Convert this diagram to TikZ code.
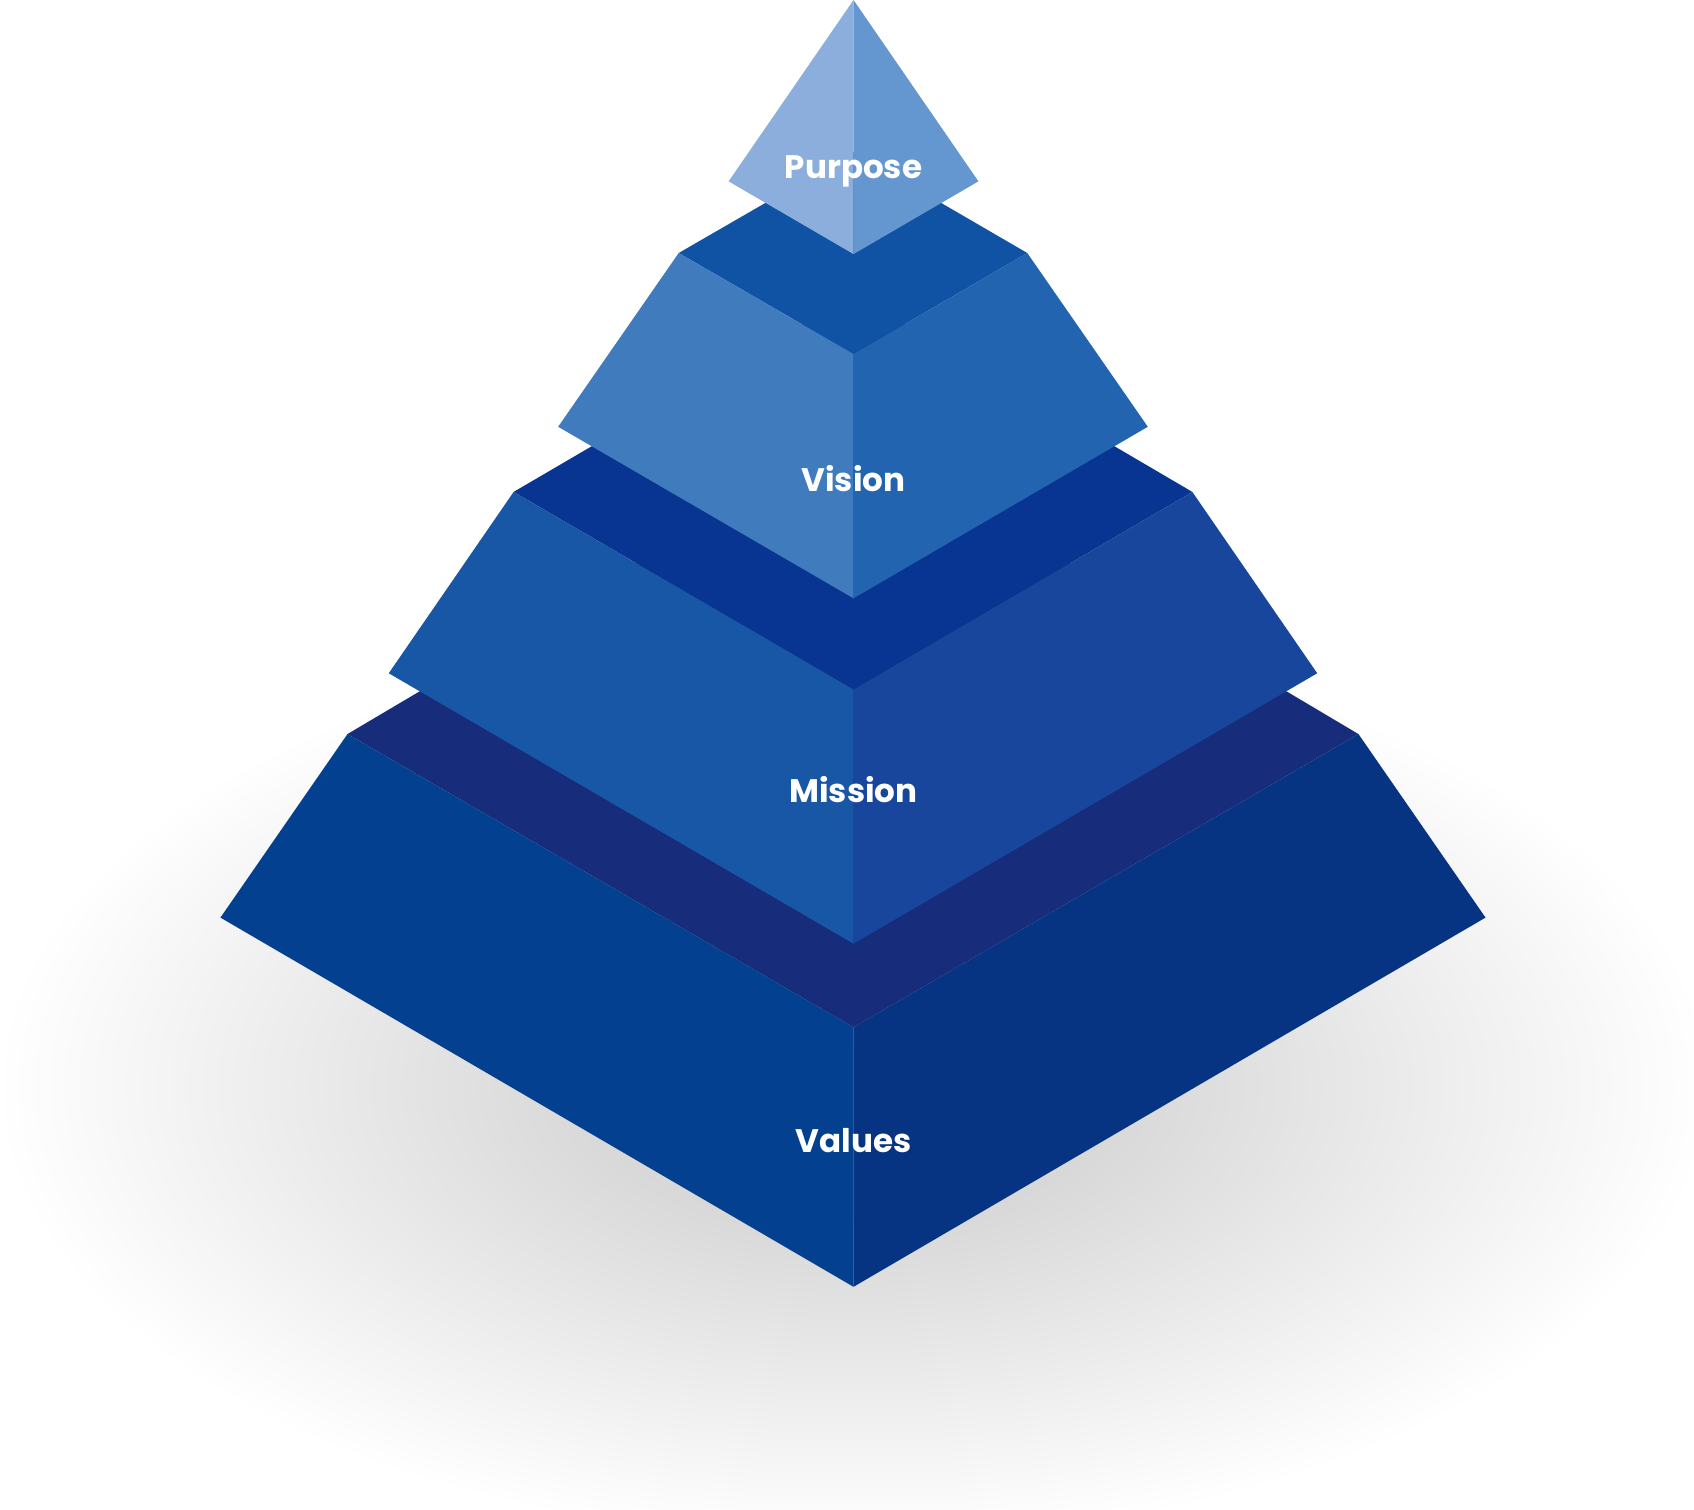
\documentclass[tikz,border=0pt]{standalone}
\usepackage{fontspec}
\setmainfont{Poppins}
\begin{document}
\begin{tikzpicture}[x=1pt,y=-1pt,
  lbl/.style={text=white,font=\fontsize{30}{32}\selectfont\bfseries}]
\definecolor{pl}{HTML}{8BAEDC}\definecolor{pr}{HTML}{6497D0}
\definecolor{vt}{HTML}{1052A3}\definecolor{vl}{HTML}{407BBE}\definecolor{vr}{HTML}{2264B0}
\definecolor{mt}{HTML}{073591}\definecolor{ml}{HTML}{1857A6}\definecolor{mr}{HTML}{17469C}
\definecolor{wt}{HTML}{172D7B}\definecolor{wl}{HTML}{03408F}\definecolor{wr}{HTML}{063483}
\useasboundingbox (0,0) rectangle (1560,1390);
\fill[white] (0,0) rectangle (1560,1390);
\shade[inner color=black!22,outer color=white] (786,1000) ellipse [x radius=790,y radius=420];
% values
\fill[wt] (320,676) -- (786,400) -- (1251,676) -- (786,946) -- cycle;
\fill[wl] (320,676) -- (203,845) -- (786,1185) -- (786,946) -- cycle;
\fill[wr] (1251,676) -- (1368,845) -- (786,1185) -- (786,946) -- cycle;
% mission
\fill[mt] (473,453) -- (786,270) -- (1098,453) -- (786,635) -- cycle;
\fill[ml] (473,453) -- (358,620) -- (786,869) -- (786,635) -- cycle;
\fill[mr] (1098,453) -- (1213,620) -- (786,869) -- (786,635) -- cycle;
% vision
\fill[vt] (625,233) -- (786,140) -- (946,233) -- (786,326) -- cycle;
\fill[vl] (625,233) -- (514,393) -- (786,551) -- (786,326) -- cycle;
\fill[vr] (946,233) -- (1057,393) -- (786,551) -- (786,326) -- cycle;
% purpose
\fill[pl] (786,0) -- (671,167) -- (786,234) -- cycle;
\fill[pr] (786,0) -- (901,167) -- (786,234) -- cycle;
\node[lbl] (purpose) at (786,158) {Purpose};
\node[lbl] (vision) at (786,441) {Vision};
\node[lbl] (mission) at (786,727) {Mission};
\node[lbl] (values) at (786,1050) {Values};
\end{tikzpicture}
\end{document}
